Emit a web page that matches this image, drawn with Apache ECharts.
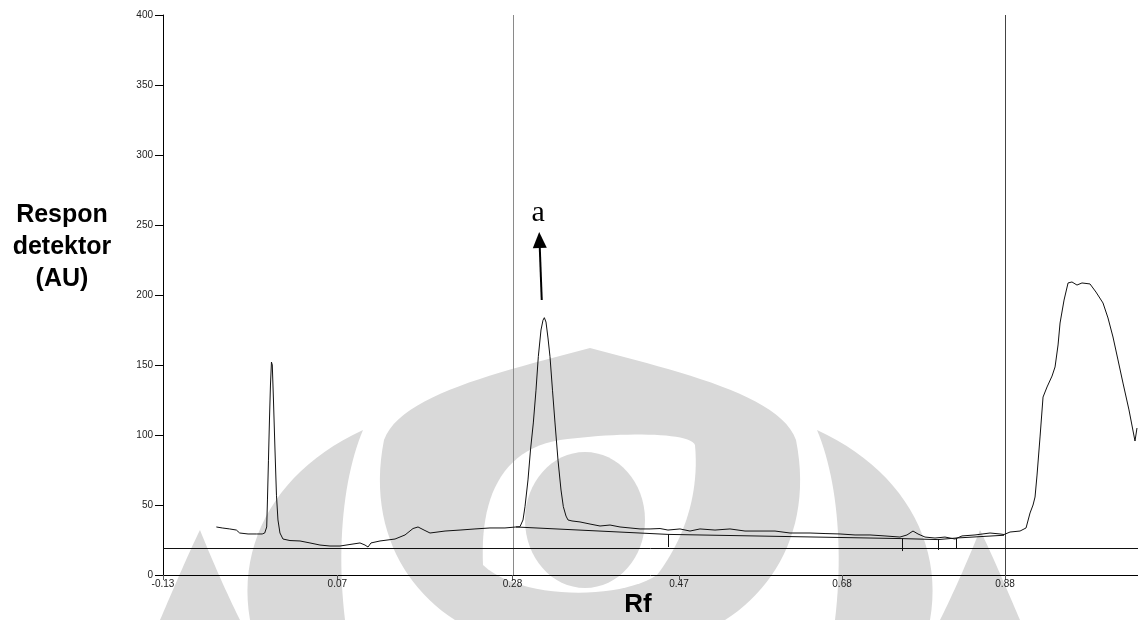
<!DOCTYPE html>
<html>
<head>
<meta charset="utf-8">
<script src="https://cdn.jsdelivr.net/npm/echarts@6/dist/echarts.min.js"></script>
<style>
html,body{margin:0;padding:0;background:#fff;}
#chart{width:1138px;height:620px;}
</style>
</head>
<body>
<div id="chart"></div>
<script>
// ---- data ----
var rfPos = [-0.066,-0.059,-0.050,-0.042,-0.038,-0.028,-0.018,-0.011,-0.008,-0.0056,-0.0047,-0.0035,-0.0023,-0.0011,0.0001,0.0011,0.0025,0.0043,0.0061,0.0079,0.0103,0.0139,0.0223,0.0343,0.0463,0.0583,0.0703,0.0823,0.0943,0.1063,0.1123,0.1159,0.1195,0.1303,0.1483,0.1603,0.1699,0.1759,0.1831,0.1903,0.2083,0.2263,0.2442,0.2622,0.2802,0.2934,0.2982,0.3018,0.3042,0.3078,0.3108,0.3142,0.3174,0.3202,0.3234,0.3258,0.3274,0.3294,0.3318,0.3342,0.3372,0.3402,0.3438,0.3474,0.3502,0.3534,0.3558,0.3606,0.3702,0.3822,0.3942,0.4062,0.4182,0.4302,0.4422,0.4542,0.4662,0.4757,0.4901,0.5021,0.5141,0.5321,0.5501,0.5681,0.5861,0.6041,0.6221,0.6461,0.6641,0.6821,0.7001,0.7180,0.7360,0.7540,0.7624,0.7696,0.7756,0.7840,0.7960,0.8080,0.8200,0.8284,0.8440,0.8620,0.8740,0.8788,0.8860,0.8980,0.9052,0.9100,0.9136,0.9160,0.9184,0.9220,0.9256,0.9304,0.9364,0.9400,0.9436,0.9460,0.9508,0.9556,0.9603,0.9663,0.9723,0.9819,0.9891,0.9975,1.0035,1.0095,1.0155,1.0215,1.0287,1.0359,1.0383];
var response = [34.3,33.6,32.9,32.1,30.0,29.3,29.3,29.3,30.0,34.3,53.6,82.0,110.7,135.7,152.1,150.0,125.0,90.0,57.0,39.3,30.0,25.7,24.6,24.3,22.9,21.4,20.7,20.7,21.8,22.9,21.4,20.0,22.9,24.3,25.7,28.6,33.2,34.3,32.1,30.0,31.4,32.1,32.9,33.6,33.6,34.3,34.5,39.3,48.8,67.9,89.3,108.6,132.0,156.0,175.0,182.0,183.8,180.7,169.3,156.0,132.0,108.6,82.0,60.7,48.8,42.1,39.3,38.6,37.9,36.4,35.0,35.7,34.3,33.6,32.9,32.9,33.2,32.1,32.9,31.4,32.9,32.1,32.9,31.4,31.4,31.4,30.0,30.0,29.6,29.3,28.6,28.6,27.9,27.1,28.6,31.4,29.3,27.1,26.4,27.1,25.7,27.9,28.6,30.0,29.3,28.9,30.7,31.4,33.6,44.3,50.0,55.7,71.4,98.6,127.1,134.3,142.1,148.6,164.3,180.0,196.4,208.6,209.3,207.1,208.6,207.9,202.1,194.3,183.6,170.0,153.6,137.1,117.9,95.7,105.0];

var baselineRf = [0.2934,0.4757,0.7564,0.7996,0.8212,0.8788];
var baselineVal = [34.3,29.0,26.0,25.3,26.4,28.4];

var markerRf = [0.4757,0.7564,0.7996,0.8212];
var markerTop = [29.0,26.0,25.3,26.4];
var markerBottom = [20.0,17.1,17.9,18.6];

var windowRf = [0.2934,0.8788];   // vertical window lines
var thresholdVal = 19.3;          // horizontal line

var xTickPos = [-0.13,0.0791,0.2892,0.4889,0.6845,0.88];
var xTickLabels = ['-0.13','0.07','0.28','0.47','0.68','0.88'];

var arrowFrom = [0.3243,196.4];
var arrowTo = [0.3216,239.3];
var peakLabelPos = [0.3200,258.6];
var peakLabel = 'a';

// ---- decorative watermark helpers (pixel space) ----
function bez(p0,p1,p2,p3,n){
  var pts=[];
  for(var i=0;i<=n;i++){
    var t=i/n, u=1-t;
    pts.push([u*u*u*p0[0]+3*u*u*t*p1[0]+3*u*t*t*p2[0]+t*t*t*p3[0],
              u*u*u*p0[1]+3*u*u*t*p1[1]+3*u*t*t*p2[1]+t*t*t*p3[1]]);
  }
  return pts;
}
function shape(segs){
  var pts=[];
  segs.forEach(function(s){ pts=pts.concat(bez(s[0],s[1],s[2],s[3],24)); });
  return pts;
}
var gray = '#d9d9d9';
var wm = [
  {pts:shape([[[160,620],[175,585],[190,550],[200,530]],[[200,530],[210,555],[225,590],[240,620]]]),fill:gray},
  {pts:shape([[[1020,620],[1005,585],[990,550],[980,530]],[[980,530],[970,555],[955,590],[940,620]]]),fill:gray},
  {pts:shape([[[250,620],[236,540],[280,468],[363,430]],[[363,430],[344,475],[336,545],[345,620]]]),fill:gray},
  {pts:shape([[[930,620],[944,540],[900,468],[817,430]],[[817,430],[836,475],[844,545],[835,620]]]),fill:gray},
  {pts:shape([[[455,620],[400,585],[368,520],[384,440]],[[384,440],[400,395],[500,372],[590,348]],[[590,348],[680,372],[780,395],[796,440]],[[796,440],[812,520],[780,585],[725,620]]]),fill:gray},
  {pts:shape([[[483,565],[480,500],[500,450],[560,440]],[[560,440],[620,432],[690,432],[695,445]],[[695,445],[700,500],[680,545],[657,575]],[[657,575],[620,600],[520,600],[483,565]]]),fill:'#fff'}
];

// ---- chart ----
var chart = echarts.init(document.getElementById('chart'), null, {renderer:'canvas'});

var traceData = rfPos.map(function(x,i){return [x,response[i]];});
var baseData = baselineRf.map(function(x,i){return [x,baselineVal[i]];});
var markerLines = markerRf.map(function(x,i){
  return [{coord:[x,markerTop[i]],lineStyle:{color:'#111',width:1,type:'solid'}},{coord:[x,markerBottom[i]]}];
});

var graphics = wm.map(function(w){
  return {type:'polygon',z:-10,silent:true,shape:{points:w.pts},style:{fill:w.fill}};
});
graphics.push({type:'ellipse',z:-10,silent:true,shape:{cx:585,cy:520,rx:60,ry:68},style:{fill:gray}});
graphics.push({type:'text',x:62,y:247,style:{text:'Respon\ndetektor\n(AU)',font:'bold 25px "Liberation Sans", Arial',fill:'#000',align:'center',verticalAlign:'middle',lineHeight:32}});
graphics.push({type:'text',x:638,y:605,style:{text:'Rf',font:'bold 26px "Liberation Sans", Arial',fill:'#000',align:'center',verticalAlign:'middle'}});

var option = {
  animation:false,
  backgroundColor:'#fff',
  grid:{left:163,right:0,top:15,bottom:45,containLabel:false},
  xAxis:{
    type:'value', min:-0.13, max:1.0395,
    axisLine:{show:true,onZero:false,lineStyle:{color:'#000',width:1}},
    axisTick:{show:true,customValues:xTickPos,length:5,lineStyle:{color:'#555'}},
    axisLabel:{show:true,customValues:xTickPos,margin:4,fontSize:10,color:'#222',fontFamily:'Liberation Sans, Arial',
      formatter:function(v){
        for(var i=0;i<xTickPos.length;i++){ if(Math.abs(xTickPos[i]-v)<1e-6) return xTickLabels[i]; }
        return '';
      }},
    splitLine:{show:false}
  },
  yAxis:{
    type:'value', min:0, max:400, interval:50,
    axisLine:{show:true,onZero:false,lineStyle:{color:'#000',width:1}},
    axisTick:{show:true,length:8,lineStyle:{color:'#000'}},
    axisLabel:{margin:10,fontSize:10,color:'#222',fontFamily:'Liberation Sans, Arial'},
    splitLine:{show:false}
  },
  graphic:graphics,
  series:[
    {
      type:'line', data:traceData, symbol:'none', smooth:false, z:5,
      lineStyle:{color:'#111',width:1},
      markLine:{
        silent:true, symbol:'none', animation:false,
        label:{show:false},
        data:[
          {xAxis:windowRf[0],lineStyle:{color:'#8a8a8a',width:1,type:'solid'}},
          {xAxis:windowRf[1],lineStyle:{color:'#444',width:1,type:'solid'}},
          {yAxis:thresholdVal,lineStyle:{color:'#111',width:1,type:'solid'}}
        ].concat(markerLines)
      },
      markPoint:{
        silent:true, symbol:'circle', symbolSize:1, itemStyle:{color:'rgba(0,0,0,0)'},
        label:{show:true,position:'inside',formatter:peakLabel,fontSize:30,color:'#000',fontFamily:'"Liberation Serif", "Times New Roman", serif'},
        data:[{coord:peakLabelPos}]
      }
    },
    {
      type:'line', data:baseData, symbol:'none', z:4,
      lineStyle:{color:'#111',width:1}
    },
    {
      type:'line', data:[], symbol:'none', z:6,
      markLine:{
        silent:true, symbol:['none','triangle'], symbolSize:[14,16], animation:false,
        label:{show:false},
        lineStyle:{color:'#000',width:2,type:'solid'},
        data:[[{coord:arrowFrom},{coord:arrowTo}]]
      }
    }
  ]
};
chart.setOption(option);
</script>
</body>
</html>
